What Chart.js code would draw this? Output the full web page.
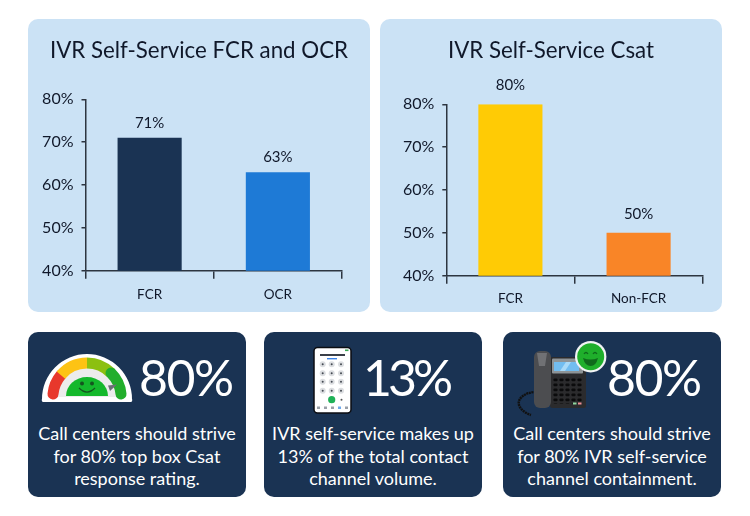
<!DOCTYPE html>
<html>
<head>
<meta charset="utf-8">
<title>IVR Self-Service</title>
<script src="https://cdn.jsdelivr.net/npm/chart.js@4/dist/chart.umd.min.js"></script>
<style>
  html, body { margin: 0; padding: 0; background: #fff; }
  #page { position: relative; width: 750px; height: 516px; overflow: hidden; font-family: Lato, sans-serif; }
  .panel { position: absolute; top: 19px; width: 342px; height: 293px; background: #cbe2f5; border-radius: 10px; }
  .panel canvas { display: block; }
  .title { position: absolute; left: 0; right: 0; top: 17px; text-align: center; font-size: 22.3px; line-height: 28px; color: #10182a; }
  .card { position: absolute; top: 332px; width: 218px; height: 165px; background: #1a3353; border-radius: 10px; color: #fff; }
  .big { position: absolute; top: 12px; font-size: 50px; line-height: 66px; letter-spacing: -1.5px; white-space: nowrap; }
  .note { position: absolute; left: 0; right: 0; top: 90px; text-align: center; font-size: 18px; line-height: 22.5px; }
  svg { position: absolute; left: 0; top: 0; }
</style>
</head>
<body>
<div id="page">
  <div class="panel" style="left:28px"><canvas id="chart1" width="342" height="293"></canvas><div class="title" id="title1"></div></div>
  <div class="panel" style="left:380px"><canvas id="chart2" width="342" height="293"></canvas><div class="title" id="title2"></div></div>

  <div class="card" style="left:28px"><div class="big" id="big1" style="left:111px"></div><div class="note" id="note1"></div></div>
  <div class="card" style="left:264px"><div class="big" id="big2" style="left:99px;letter-spacing:-4px"></div><div class="note" id="note2"></div></div>
  <div class="card" style="left:503px"><div class="big" id="big3" style="left:104px"></div><div class="note" id="note3"></div></div>

  <svg width="750" height="516" viewBox="0 0 750 516">
    <!-- gauge -->
    <path d="M44 402 A2 2 0 0 1 42 399 A45 45 0 0 1 132 399 A2 2 0 0 1 130 402 Z" fill="#fff"/>
    <path d="M54 397 A33 33 0 0 1 120 397 Z" fill="#ececec"/>
    <g fill="none" stroke-width="11">
      <path d="M53 394 A34 34 0 0 1 60.9 375.1" stroke="#e8382c" stroke-linecap="round"/>
      <path d="M60.9 375.1 A34 34 0 0 1 87 363" stroke="#fdc314"/>
      <path d="M87 363 A34 34 0 0 1 111 373" stroke="#8cc010"/>
      <path d="M111 373 A34 34 0 0 1 121 394" stroke="#22ae2c" stroke-linecap="round"/>
    </g>
    <path d="M66 396 A21 19 0 0 1 108 396 Z" fill="#14b82c"/>
    <g fill="#14551f"><circle cx="82" cy="383.5" r="2"/><circle cx="92" cy="383.5" r="2"/></g>
    <path d="M79 388 Q87 396 95 388" fill="none" stroke="#14551f" stroke-width="1.2"/>
    <path d="M117 384.5 L108 385.5 L110 391 Z" fill="#6b6f76"/>

    <!-- smartphone -->
    <rect x="314" y="347.5" width="37" height="65.5" rx="3.5" fill="#fff" stroke="#0b0d12" stroke-width="1.5"/>
    <rect x="320" y="354" width="25" height="2" fill="#3a3f48"/>
    <rect x="327" y="358" width="10" height="1.4" fill="#3b82e6"/>
    <rect x="345" y="349.5" width="3.5" height="1.6" fill="#3aa655"/>
    <g id="keypad"></g>
    <circle cx="331.7" cy="399.7" r="3.6" fill="#1fb157"/>
    <circle cx="341.5" cy="399.7" r="1" fill="#555"/>
    <g fill="#9aa0a8">
      <rect x="317" y="406.5" width="3" height="2.5"/><rect x="324" y="406.5" width="3" height="2.5"/>
      <rect x="331" y="406.5" width="3" height="2.5"/><rect x="338" y="406.5" width="3" height="2.5" fill="#6da7ea"/>
      <rect x="345" y="406.5" width="3" height="2.5"/>
    </g>

    <!-- desk phone -->
    <path d="M536 392 C526 392 517 398 519 405 C521 411 528 414 531 415" fill="none" stroke="#111" stroke-width="2.4" stroke-dasharray="2 .6"/>
    <rect x="550" y="357" width="36" height="51" rx="2.5" fill="#2b2b2d"/>
    <rect x="534" y="351" width="17" height="57" rx="6" fill="#4c4d50"/>
    <path d="M537 353 L547 353 L545 366 L539 366 Z" fill="#707174"/>
    <rect x="552" y="358.5" width="31" height="15" rx="1" fill="#8e9497"/>
    <rect x="554" y="362" width="25" height="9" fill="#72bdf0"/>
    <path d="M560 371 L566 362 L571 362 L565 371 Z" fill="#a9daf8"/>
    <defs>
      <pattern id="keys" x="553" y="378" width="6" height="5" patternUnits="userSpaceOnUse">
        <rect x="0.5" y="0.5" width="4" height="2.8" rx="0.8" fill="#0b0b0c"/>
      </pattern>
    </defs>
    <rect x="553" y="378" width="30" height="26" fill="url(#keys)"/>
    <rect x="573" y="402.5" width="3.5" height="2" fill="#8fd6a0"/><rect x="578" y="402.5" width="3.5" height="2" fill="#ee8f96"/>

    <circle cx="590.7" cy="356.7" r="15.7" fill="#f1f3f4"/>
    <circle cx="590.7" cy="356.7" r="13.5" fill="#1faf2b"/>
    <path d="M584 354 Q586 351 588 354 M593 354 Q595 351 597 354" fill="none" stroke="#0f6a1c" stroke-width="1.3"/>
    <path d="M583 358 Q590.7 361 598 358 Q596 366 590.7 366 Q585 366 583 358 Z" fill="#0f6a1c"/>
  </svg>
</div>

<script>
const categories1 = ['FCR', 'OCR'];
const values1 = [71, 63];
const colors1 = ['#1a3353', '#1e7ad6'];

const categories2 = ['FCR', 'Non-FCR'];
const values2 = [80, 50];
const colors2 = ['#ffcb05', '#f98527'];

const axisMin = 40;
const axisMax = 80;
const axisStep = 10;

const titles = ['IVR Self-Service FCR and OCR', 'IVR Self-Service Csat'];
const bigNumbers = ['80%', '13%', '80%'];
const notes = [
  ['Call centers should strive', 'for 80% top box Csat', 'response rating.'],
  ['IVR self-service makes up', '13% of the total contact', 'channel volume.'],
  ['Call centers should strive', 'for 80% IVR self-service', 'channel containment.']
];

const inkColor = '#10182a';
const axisColor = '#2d3540';

// text above each bar
const barLabels = {
  id: 'barLabels',
  afterDatasetsDraw(chart, args, opts) {
    const ctx = chart.ctx;
    ctx.save();
    ctx.font = '15px Lato';
    ctx.fillStyle = inkColor;
    ctx.textAlign = 'center';
    ctx.textBaseline = 'middle';
    chart.getDatasetMeta(0).data.forEach(function (bar, i) {
      ctx.fillText(chart.data.datasets[0].data[i] + '%', bar.x, bar.y - opts.gap);
    });
    ctx.restore();
  }
};

function drawChart(id, labels, values, colors, o) {
  new Chart(document.getElementById(id), {
    type: 'bar',
    plugins: [barLabels],
    data: {
      labels: labels,
      datasets: [{ data: values, backgroundColor: colors, barPercentage: 0.5, categoryPercentage: 1 }]
    },
    options: {
      responsive: false,
      animation: false,
      layout: { padding: { top: o.top, right: o.right } },
      plugins: {
        legend: { display: false },
        tooltip: { enabled: false },
        barLabels: { gap: o.labelGap }
      },
      scales: {
        x: {
          afterFit(scale) { scale.height = o.xHeight; },
          border: { color: axisColor, width: 1.5 },
          grid: { drawOnChartArea: false, color: axisColor, lineWidth: 1.5, tickLength: 8 },
          ticks: { color: inkColor, font: { family: 'Lato', size: 13.5 }, padding: o.xPad, maxRotation: 0 }
        },
        y: {
          min: axisMin,
          max: axisMax,
          afterFit(scale) { scale.width = o.yWidth; },
          border: { color: axisColor, width: 1.5 },
          grid: { drawOnChartArea: false, color: axisColor, lineWidth: 1.5, tickLength: 4 },
          ticks: {
            stepSize: axisStep,
            color: inkColor,
            font: { family: 'Lato', size: 16 },
            padding: 8,
            callback: function (v) { return v + '%'; }
          }
        }
      }
    }
  });
}

drawChart('chart1', categories1, values1, colors1,
  { top: 80.3, right: 28, yWidth: 57.5, xHeight: 41.3, xPad: 8, labelGap: 14.5 });
drawChart('chart2', categories2, values2, colors2,
  { top: 85.3, right: 19.3, yWidth: 66.3, xHeight: 36.3, xPad: 7, labelGap: 19 });

titles.forEach(function (txt, i) {
  document.getElementById('title' + (i + 1)).textContent = txt;
});
bigNumbers.forEach(function (txt, i) {
  document.getElementById('big' + (i + 1)).textContent = txt;
  document.getElementById('note' + (i + 1)).innerHTML = notes[i].join('<br>');
});

// phone keypad
const keypad = document.getElementById('keypad');
[364.3, 373.3, 381.7, 390.7].forEach(function (y) {
  [322.7, 331.7, 341].forEach(function (x) {
    [[3, '#dcdee1'], [1, '#444a52']].forEach(function (k) {
      const c = document.createElementNS('http://www.w3.org/2000/svg', 'circle');
      c.setAttribute('cx', x);
      c.setAttribute('cy', y);
      c.setAttribute('r', k[0]);
      c.setAttribute('fill', k[1]);
      keypad.appendChild(c);
    });
  });
});
</script>
</body>
</html>
